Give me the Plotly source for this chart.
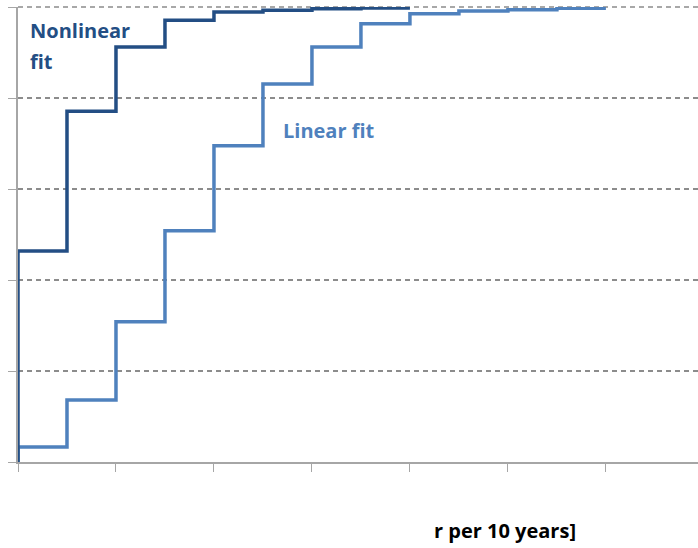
import plotly.graph_objects as go

# Step positions (x, trend units) and cumulative values
nonlinear_x = [0, 0, 0.5, 1.0, 1.5, 2.0, 2.5, 3.0, 3.5, 4.0]
nonlinear_y = [0, 0.464, 0.771, 0.912, 0.971, 0.989, 0.993, 0.996, 0.998, 0.998]

linear_x = [0, 0, 0.5, 1.0, 1.5, 2.0, 2.5, 3.0, 3.5, 4.0, 4.5, 5.0, 5.5, 6.0]
linear_y = [0, 0.033, 0.136, 0.308, 0.508, 0.695, 0.831, 0.912, 0.963, 0.985,
            0.991, 0.994, 0.997, 0.997]

x_ticks = [0, 1, 2, 3, 4, 5, 6]
y_ticks = [0, 0.2, 0.4, 0.6, 0.8, 1.0]

dark = "#234E84"
light = "#4F81BD"
grid = "#8C8C8C"
axis_col = "#A6A6A6"
font_family = "Open Sans"

fig = go.Figure()
fig.add_trace(go.Scatter(x=linear_x, y=linear_y, mode="lines",
                         line=dict(color=light, width=3.5, shape="hv"),
                         name="Linear fit", cliponaxis=False))
fig.add_trace(go.Scatter(x=nonlinear_x, y=nonlinear_y, mode="lines",
                         line=dict(color=dark, width=3.5, shape="hv"),
                         name="Nonlinear fit", cliponaxis=False))

# top gridline (at the upper edge of the plot area)
fig.add_shape(type="line", xref="paper", yref="paper", x0=0, x1=1, y0=1, y1=1,
              line=dict(color=grid, width=1.5, dash="5px,4px"), layer="below")

fig.add_annotation(x=0.1, y=1.0 - 23.5 / 455, xref="x", yref="y", xanchor="left", yanchor="middle",
                   text="Nonlinear", showarrow=False,
                   font=dict(family=font_family, size=20, color=dark, weight="bold"))
fig.add_annotation(x=0.1, y=1.0 - 54 / 455, xref="x", yref="y", xanchor="left", yanchor="middle",
                   text="fit", showarrow=False,
                   font=dict(family=font_family, size=20, color=dark, weight="bold"))
fig.add_annotation(x=(281 - 18) / 98, y=(462 - 130) / 455, xref="x", yref="y",
                   xanchor="left", yanchor="middle",
                   text="Linear fit", showarrow=False,
                   font=dict(family=font_family, size=20, color=light, weight="bold"))
fig.add_annotation(x=(505 - 18) / 680, y=-(530 - 462) / 455, xref="paper", yref="paper",
                   xanchor="center", yanchor="middle",
                   text="r per 10 years]", showarrow=False,
                   font=dict(family=font_family, size=20, color="black", weight="bold"))

fig.update_layout(
    width=698, height=548,
    margin=dict(l=18, r=0, t=7, b=86),
    paper_bgcolor="white", plot_bgcolor="white",
    showlegend=False,
    xaxis=dict(range=[0, 6.94], tickvals=x_ticks, showticklabels=False,
               ticks="outside", ticklen=8, tickcolor=axis_col,
               showgrid=False, zeroline=False, showline=True,
               linecolor=axis_col, linewidth=1.5),
    yaxis=dict(range=[0, 1], tickvals=y_ticks, showticklabels=False,
               ticks="outside", ticklen=8, tickcolor=axis_col,
               showgrid=True, gridcolor=grid, griddash="5px,4px", gridwidth=1.5,
               zeroline=False, showline=True, linecolor=axis_col, linewidth=1.5),
)

fig.write_html("out.html")
